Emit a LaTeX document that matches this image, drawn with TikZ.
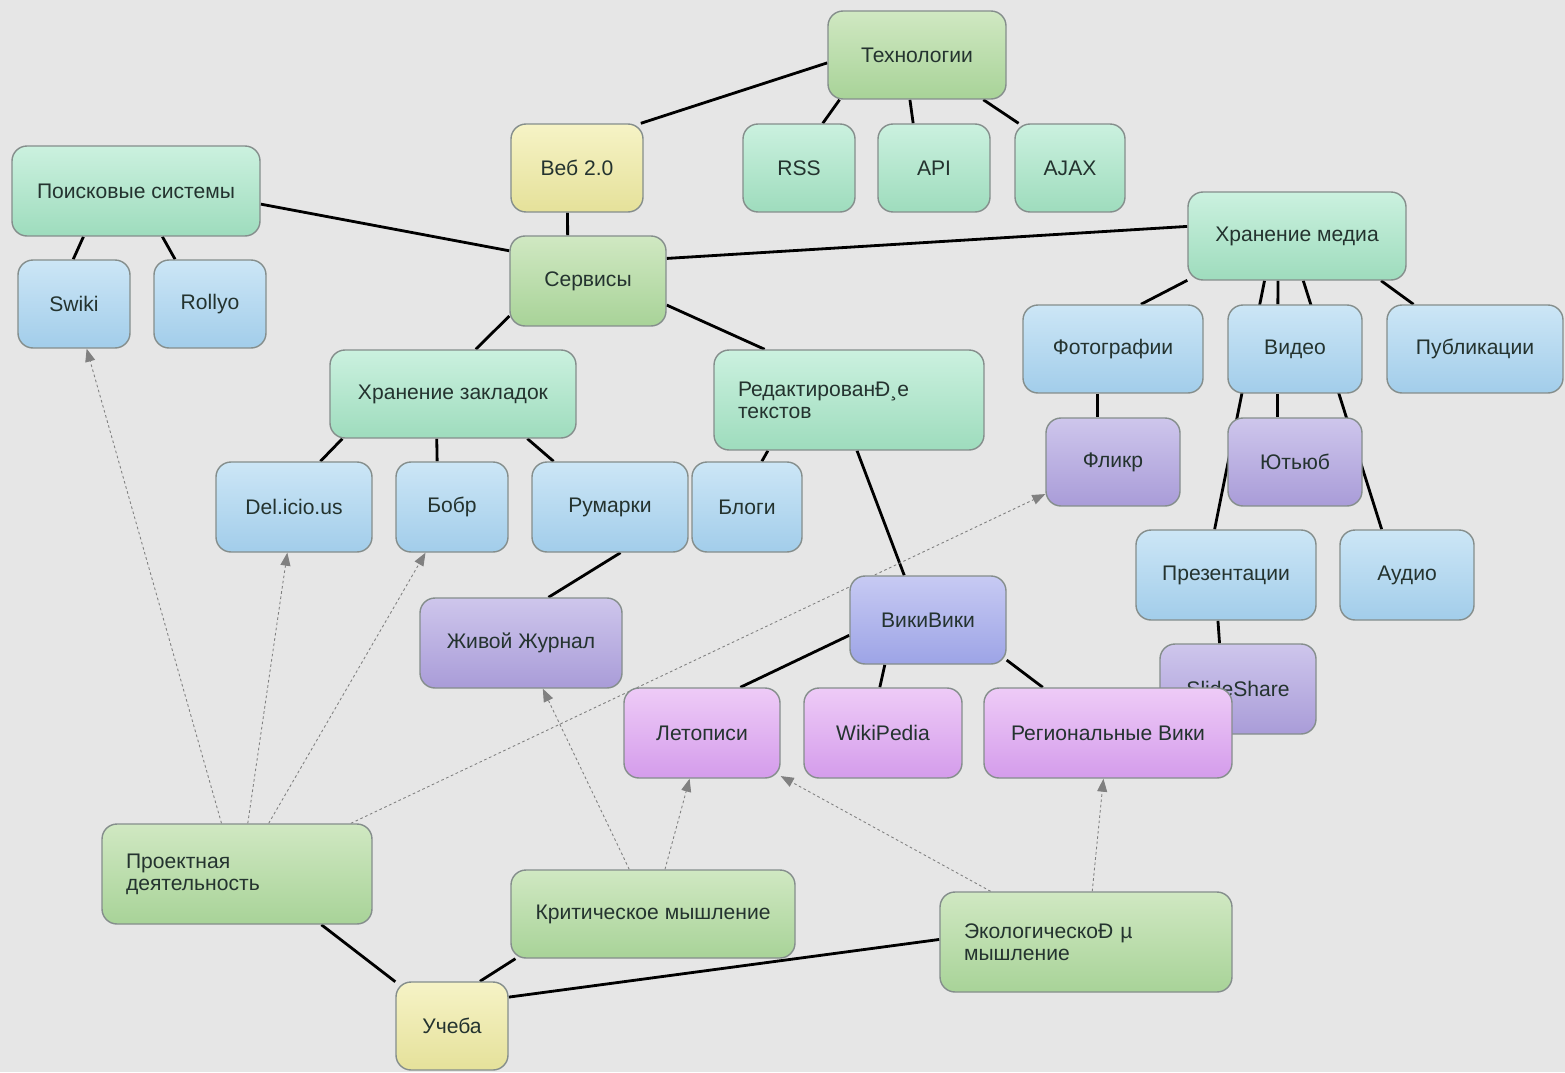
\documentclass[tikz,border=0pt]{standalone}
\usepackage{fontspec}
\setmainfont{Liberation Sans}
\usetikzlibrary{arrows.meta,backgrounds}
\definecolor{paper}{HTML}{E6E6E6}
\definecolor{ink}{HTML}{24332F}
\definecolor{boxline}{HTML}{858E8C}
\definecolor{mintT}{HTML}{CBF1DF}
\definecolor{mintB}{HTML}{9EDCBD}
\definecolor{grnT}{HTML}{D0E8C2}
\definecolor{grnB}{HTML}{A8D398}
\definecolor{yelT}{HTML}{F6F3C6}
\definecolor{yelB}{HTML}{E5E19A}
\definecolor{bluT}{HTML}{CCE6F6}
\definecolor{bluB}{HTML}{A2CDEA}
\definecolor{purT}{HTML}{CEC6EC}
\definecolor{purB}{HTML}{A99CD8}
\definecolor{wikT}{HTML}{C7CAF3}
\definecolor{wikB}{HTML}{9DA4E6}
\definecolor{pnkT}{HTML}{EECBF7}
\definecolor{pnkB}{HTML}{D49CEB}
\begin{document}
\begin{tikzpicture}[x=0.02cm, y=-0.02cm,
    box/.style={draw=boxline, line width=0.8pt, rounded corners=0.3cm, minimum height=1.76cm,
      text=ink, font=\fontsize{12}{12.5}\selectfont},
    bw/.style={minimum width=#1*0.02cm},
    two/.style={minimum height=2cm, inner xsep=0.48cm, text width=#1, align=left},
    mint/.style={top color=mintT, bottom color=mintB},
    grn/.style={top color=grnT, bottom color=grnB},
    yel/.style={top color=yelT, bottom color=yelB},
    blu/.style={top color=bluT, bottom color=bluB},
    pur/.style={top color=purT, bottom color=purB},
    wik/.style={top color=wikT, bottom color=wikB},
    pnk/.style={top color=pnkT, bottom color=pnkB},
    link/.style={line width=1.6pt, black},
    hint/.style={gray, line width=0.5pt, dash pattern=on 1.5pt off 1.5pt,
      -{Triangle[length=0.26cm,width=0.2cm]}}]
    \useasboundingbox (0,0) rectangle (1565,1072);
    \begin{scope}[on background layer]
        \fill[paper] (0,0) rectangle (1565,1072);
    \end{scope}
    \node[box,grn,bw=178] (tech) at (917,55) {Технологии};
    \node[box,yel,bw=132] (web) at (577,168) {Веб 2.0};
    \node[box,mint,bw=112] (rss) at (799,168) {RSS};
    \node[box,mint,bw=112] (api) at (934,168) {API};
    \node[box,mint,bw=110] (ajax) at (1070,168) {AJAX};
    \node[box,mint,bw=248,minimum height=1.8cm] (search) at (136,191) {Поисковые системы};
    \node[box,blu,bw=112] (swiki) at (74,304) {Swiki};
    \node[box,blu,bw=112] (rollyo) at (210,304) {Rollyo};
    \node[box,grn,bw=156,minimum height=1.8cm] (serv) at (588,281) {Сервисы};
    \node[box,mint,bw=218] (media) at (1297,236) {Хранение медиа};
    \node[box,blu,bw=180] (photo) at (1113,349) {Фотографии};
    \node[box,blu,bw=134] (video) at (1295,349) {Видео};
    \node[box,blu,bw=176] (publ) at (1475,349) {Публикации};
    \node[box,mint,bw=246] (marks) at (453,394) {Хранение закладок};
    \node[box,mint,two=4.44cm] (edit) at (849,400) {РедактированÐ¸е\\текстов};
    \node[box,pur,bw=134] (flickr) at (1113,462) {Фликр};
    \node[box,pur,bw=134] (yt) at (1295,462) {Ютьюб};
    \node[box,blu,bw=156,minimum height=1.8cm] (del) at (294,507) {Del.icio.us};
    \node[box,blu,bw=112,minimum height=1.8cm] (bobr) at (452,507) {Бобр};
    \node[box,blu,bw=156,minimum height=1.8cm] (rumarki) at (610,507) {Румарки};
    \node[box,blu,bw=110,minimum height=1.8cm] (blogs) at (747,507) {Блоги};
    \node[box,blu,bw=180,minimum height=1.8cm] (pres) at (1226,575) {Презентации};
    \node[box,blu,bw=134,minimum height=1.8cm] (audio) at (1407,575) {Аудио};
    \node[box,wik,bw=156] (wiki) at (928,620) {ВикиВики};
    \node[box,pur,bw=202,minimum height=1.8cm] (zhzh) at (521,643) {Живой Журнал};
    \node[box,pur,bw=156,minimum height=1.8cm] (slide) at (1238,689) {SlideShare};
    \node[box,pnk,bw=156,minimum height=1.8cm] (chron) at (702,733) {Летописи};
    \node[box,pnk,bw=158,minimum height=1.8cm] (wpedia) at (883,733) {WikiPedia};
    \node[box,pnk,bw=248,minimum height=1.8cm] (reg) at (1108,733) {Региональные Вики};
    \node[box,grn,two=4.44cm] (proj) at (237,874) {Проектная\\деятельность};
    \node[box,grn,bw=284] (crit) at (653,914) {Критическое мышление};
    \node[box,grn,two=4.88cm] (eco) at (1086,942) {ЭкологическоÐ µ\\мышление};
    \node[box,yel,bw=112] (study) at (452,1026) {Учеба};
    \begin{scope}[on background layer]
        \draw[link] (tech.185) -- (web.35);
        \draw[link] (tech.210) -- (rss.62);
        \draw[link] (tech.261) -- (api.115);
        \draw[link] (tech.326) -- (ajax.139);
        \draw[link] (web.258) -- (serv.114);
        \draw[link] (search.354) -- (serv.159);
        \draw[link] (search.221) -- (swiki.91);
        \draw[link] (search.300) -- (rollyo.128);
        \draw[link] (serv.16) -- (media.175);
        \draw[link] (serv.204) -- (marks.63);
        \draw[link] (serv.343) -- (edit.149);
        \draw[link] (media.202) -- (photo.58);
        \draw[link] (media.247) -- (video.111);
        \draw[link] (media.234) -- (pres.104);
        \draw[link] (media.278) -- (audio.119);
        \draw[link] (media.332) -- (publ.144);
        \draw[link] (video.249) -- (yt.111);
        \draw[link] (photo.251) -- (flickr.109);
        \draw[link] (marks.202) -- (del.60);
        \draw[link] (marks.250) -- (bobr.108);
        \draw[link] (marks.329) -- (rumarki.141);
        \draw[link] (edit.212) -- (blogs.72);
        \draw[link] (edit.279) -- (wiki.118);
        \draw[link] (rumarki.283) -- (zhzh.59);
        \draw[link] (pres.260) -- (slide.112);
        \draw[link] (wiki.191) -- (chron.50);
        \draw[link] (wiki.226) -- (wpedia.94);
        \draw[link] (wiki.333) -- (reg.145);
        \draw[link] (proj.329) -- (study.142);
        \draw[link] (crit.198) -- (study.58);
        \draw[link] (eco.179) -- (study.27);
        \draw[hint] (proj.107) -- (swiki);
        \draw[hint] (proj.78) -- (del);
        \draw[hint] (proj.58) -- (bobr);
        \draw[hint] (proj.24) -- (flickr);
        \draw[hint] (crit.118) -- (zhzh);
        \draw[hint] (crit.75) -- (chron);
        \draw[hint] (eco.152) -- (chron);
        \draw[hint] (eco.83) -- (reg);
    \end{scope}
\end{tikzpicture}
\end{document}
